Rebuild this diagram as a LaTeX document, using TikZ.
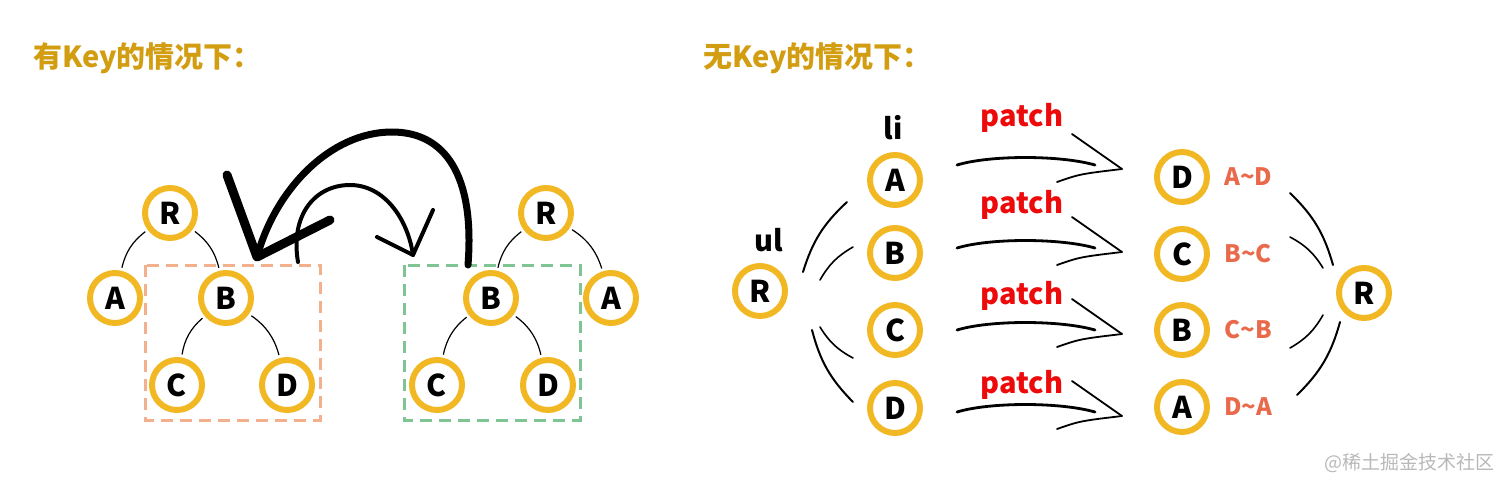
\documentclass[tikz,border=0pt]{standalone}
\usepackage{fontspec}
\setmainfont{Noto Sans CJK SC}
\usepackage{tikz}
\usetikzlibrary{positioning}

\definecolor{titlegold}{HTML}{D39D12}
\definecolor{ringyellow}{HTML}{F2B824}
\definecolor{patchred}{HTML}{EC0A0A}
\definecolor{swapred}{HTML}{E9694B}
\definecolor{boxorange}{HTML}{F3B08C}
\definecolor{boxgreen}{HTML}{7EC593}
\definecolor{markgray}{HTML}{B8B8B8}

\tikzset{
	ring/.style={circle, draw=ringyellow, line width=3pt, fill=white, minimum size=25pt, inner sep=0pt, font=\bfseries\fontsize{15}{16}\selectfont},
	twig/.style={line width=0.6pt, shorten <=1.5pt, shorten >=1.5pt},
	fan/.style={line width=1pt, line cap=round},
	brush/.style={line width=3.5pt, line cap=round, line join=round},
	thinbrush/.style={line width=2pt, line cap=round, line join=round},
	shaft/.style={line width=1.4pt, line cap=round},
	barb/.style={line width=0.9pt, line cap=round},
	headline/.style={font=\bfseries\fontsize{14.5}{16}\selectfont, text=titlegold, anchor=west, inner sep=0pt},
	tag/.style={font=\bfseries\fontsize{14.5}{16}\selectfont, inner sep=0pt},
	patchtag/.style={font=\bfseries\fontsize{14.5}{16}\selectfont, text=patchred, inner sep=0pt},
	swaptag/.style={font=\bfseries\fontsize{12}{13}\selectfont, text=swapred, inner sep=0pt},
	keybox/.style={dash pattern=on 6pt off 3.5pt, line width=1.5pt}
}

\begin{document}
\begin{tikzpicture}[x=0.5pt,y=0.5pt]
	\useasboundingbox (0,0) rectangle (1512,-489);

	% titles
	\node[headline] (keytitle) at (33,-58) {有Key的情况下：};
	\node[headline] (nokeytitle) at (703,-58) {无Key的情况下：};

	% with key: old tree
	\node[ring] (R1) at (170,-213) {R};
	\node[ring] (A1) at (115,-298) {A};
	\node[ring] (B1) at (226,-298) {B};
	\node[ring] (C1) at (177,-385) {C};
	\node[ring] (D1) at (287,-385) {D};
	\draw[twig] (R1) to[bend right=20] (A1);
	\draw[twig] (R1) to[bend left=20] (B1);
	\draw[twig] (B1) to[bend right=20] (C1);
	\draw[twig] (B1) to[bend left=20] (D1);
	\draw[keybox, boxorange] (145,-265) rectangle (320,-420);

	% with key: new tree
	\node[ring] (R2) at (546,-213) {R};
	\node[ring] (B2) at (491,-298) {B};
	\node[ring] (A2) at (611,-298) {A};
	\node[ring] (C2) at (437,-385) {C};
	\node[ring] (D2) at (548,-385) {D};
	\draw[twig] (R2) to[bend right=20] (B2);
	\draw[twig] (R2) to[bend left=20] (A2);
	\draw[twig] (B2) to[bend right=20] (C2);
	\draw[twig] (B2) to[bend left=20] (D2);
	\draw[keybox, boxgreen] (404,-265) rectangle (580,-420);

	% moving the subtree
	\coordinate (bigfrom) at (468,-265);
	\coordinate (bigto) at (257,-257);
	\draw[brush] (bigfrom) .. controls (475,-175) and (445,-132) .. (392,-132)
		.. controls (330,-132) and (275,-190) .. (bigto);
	\draw[brush, line width=4.5pt] (227,-175) -- (bigto) -- (330,-220);
	\coordinate (smallfrom) at (298,-262);
	\coordinate (smallto) at (413,-255);
	\draw[thinbrush] (smallfrom) .. controls (290,-215) and (315,-185) .. (350,-185)
		.. controls (385,-185) and (408,-220) .. (smallto);
	\draw[thinbrush] (377,-237) -- (smallto) -- (433,-210);

	% without key: old list
	\node[ring] (ulR) at (760,-291) {R};
	\node[tag] (ul) at (769,-240) {ul};
	\node[ring] (liA) at (895,-180) {A};
	\node[ring] (liB) at (895,-253) {B};
	\node[ring] (liC) at (895,-330) {C};
	\node[ring] (liD) at (895,-408) {D};
	\node[tag] (li) at (893,-128) {li};
	\draw[fan] ([shift={(43,19)}]ulR.center) to[bend left=15] ([shift={(-48,-22)}]liA.center);
	\draw[fan, line width=0.8pt] ([shift={(60,11)}]ulR.center) to[bend left=15] ([shift={(-42,6)}]liB.center);
	\draw[fan, line width=0.8pt] ([shift={(60,-36)}]ulR.center) to[bend right=15] ([shift={(-42,-28)}]liC.center);
	\draw[fan] ([shift={(52,-39)}]ulR.center) to[bend right=15] ([shift={(-42,6)}]liD.center);

	% without key: new list
	\node[ring] (nD) at (1182,-177) {D};
	\node[ring] (nC) at (1182,-254) {C};
	\node[ring] (nB) at (1182,-330) {B};
	\node[ring] (nA) at (1182,-407) {A};
	\node[ring] (rR) at (1364,-293) {R};
	\node[swaptag, right=7pt of nD] (swapD) {A\textasciitilde D};
	\node[swaptag, right=7pt of nC] (swapC) {B\textasciitilde C};
	\node[swaptag, right=7pt of nB] (swapB) {C\textasciitilde B};
	\node[swaptag, right=7pt of nA] (swapA) {D\textasciitilde A};
	\draw[fan] ([shift={(108,-16)}]nD.center) to[bend left=15] ([shift={(-31,28)}]rR.center);
	\draw[fan, line width=0.8pt] ([shift={(108,17)}]nC.center) to[bend left=15] ([shift={(-41,25)}]rR.center);
	\draw[fan, line width=0.8pt] ([shift={(108,-18)}]nB.center) to[bend right=15] ([shift={(-41,-22)}]rR.center);
	\draw[fan] ([shift={(115,12)}]nA.center) to[bend right=15] ([shift={(-24,-29)}]rR.center);

	% patch arrows
	\node[patchtag] (patch1) at (1022,-118) {patch};
	\node[patchtag] (patch2) at (1022,-205) {patch};
	\node[patchtag] (patch3) at (1022,-296) {patch};
	\node[patchtag] (patch4) at (1022,-385) {patch};
	\coordinate (tip1) at (1122,-169);
	\coordinate (tip2) at (1122,-252);
	\coordinate (tip3) at (1122,-334);
	\coordinate (tip4) at (1122,-416);
	\draw[shaft] (957,-165) .. controls (990,-155) and (1060,-155) .. (1095,-165);
	\draw[barb] (1072,-134) -- (tip1);
	\draw[barb] (1057,-182) .. controls (1080,-174) .. (tip1);
	\draw[shaft] (957,-248) .. controls (990,-238) and (1060,-238) .. (1095,-248);
	\draw[barb] (1072,-217) -- (tip2);
	\draw[barb] (1057,-265) .. controls (1080,-257) .. (tip2);
	\draw[shaft] (957,-330) .. controls (990,-320) and (1060,-320) .. (1095,-330);
	\draw[barb] (1072,-299) -- (tip3);
	\draw[barb] (1057,-347) .. controls (1080,-339) .. (tip3);
	\draw[shaft] (957,-412) .. controls (990,-402) and (1060,-402) .. (1095,-412);
	\draw[barb] (1072,-381) -- (tip4);
	\draw[barb] (1057,-429) .. controls (1080,-421) .. (tip4);

	% watermark
	\node[font=\fontsize{9.5}{11}\selectfont, text=markgray, anchor=east, inner sep=0pt] (mark) at (1495,-463) {@稀土掘金技术社区};
\end{tikzpicture}
\end{document}
